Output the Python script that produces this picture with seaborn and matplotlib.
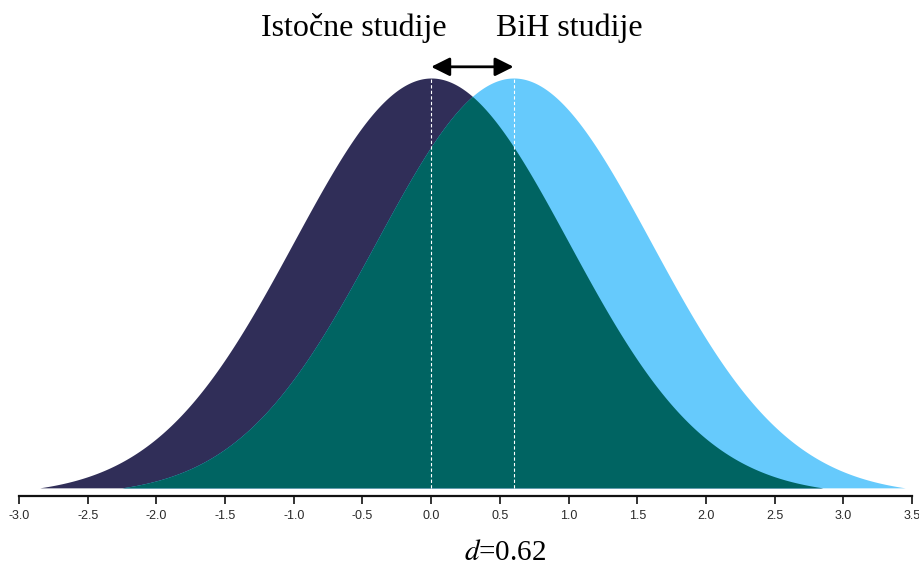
import numpy as np
import pandas as pd
import matplotlib
matplotlib.use("Agg")
import matplotlib.pyplot as plt
import seaborn as sns

# ── data ──────────────────────────────────────────────────────────────────────
group_names = ["Istočne studije", "BiH studije"]
group_means = [0.0, 0.6]
group_sd = [1.0, 1.0]
tail_cut = 2.85          # curves drawn to mean ± tail_cut
effect_label = "0.62"
x_ticks = [-3.0, -2.5, -2.0, -1.5, -1.0, -0.5, 0.0, 0.5, 1.0, 1.5, 2.0, 2.5, 3.0, 3.5]

COL_LEFT = "#302e58"
COL_RIGHT = "#66cafc"
COL_OVERLAP = "#006462"


def normal_pdf(x, mu, sd):
    return np.exp(-0.5 * ((x - mu) / sd) ** 2) / (sd * np.sqrt(2 * np.pi))


grid = np.linspace(-3.0, 3.5, 1400)
frames = []
for name, mu, sd in zip(group_names, group_means, group_sd):
    # taper the truncated tails to zero so the curve ends in a point
    dens = normal_pdf(grid, mu, sd) - normal_pdf(mu + tail_cut * sd, mu, sd)
    dens = np.where(np.abs(grid - mu) <= tail_cut * sd, dens, np.nan)
    frames.append(pd.DataFrame({"x": grid, "density": dens, "group": name}))
df = pd.concat(frames, ignore_index=True)

sns.set_theme(style="white")
plt.rcParams["mathtext.fontset"] = "stix"
fig = plt.figure(figsize=(9.2, 5.7), dpi=100)
ax = fig.add_axes([19 / 920, (570 - 496) / 570, 893 / 920, (496 - 78) / 570])

d_left = df.loc[df.group == group_names[0], "density"].to_numpy()
d_right = df.loc[df.group == group_names[1], "density"].to_numpy()
peak = np.nanmax(d_left)

# curves via seaborn (thin, hidden under fills), then fills
sns.lineplot(data=df, x="x", y="density", hue="group", hue_order=group_names,
             palette=[COL_LEFT, COL_RIGHT], lw=0, legend=False, ax=ax, zorder=0)
ax.fill_between(grid, 0, d_left, where=~np.isnan(d_left), color=COL_LEFT, lw=0, zorder=1)
ax.fill_between(grid, 0, d_right, where=~np.isnan(d_right), color=COL_RIGHT, lw=0, zorder=2)
overlap = np.fmin(np.nan_to_num(d_left), np.nan_to_num(d_right))
ax.fill_between(grid, 0, overlap, color=COL_OVERLAP, lw=0, zorder=3)

# mean markers
for mu in group_means:
    ax.plot([mu, mu], [0, peak], color="white", ls=(0, (3, 2)), lw=0.8, zorder=4)

ax.set_xlim(-3.0, 3.5)
ax.set_ylim(-0.0078, peak)
ax.set_xticks(x_ticks)
ax.set_xticklabels([f"{t:.1f}" for t in x_ticks],
                   fontsize=9, color="#2a2a2a",
                   family=["Liberation Sans Narrow", "Liberation Sans", "DejaVu Sans"])
ax.set_yticks([])
ax.set_xlabel("")
ax.set_ylabel("")
for s in ["top", "right", "left"]:
    ax.spines[s].set_visible(False)
ax.spines["bottom"].set_color("#111111")
ax.spines["bottom"].set_linewidth(1.6)
ax.tick_params(axis="x", direction="out", length=6, width=1.2, color="#111111", pad=4, bottom=True)

# arrow between means
arrow_y = peak + 0.0107
ax.annotate("", xy=(group_means[1], arrow_y), xytext=(group_means[0], arrow_y),
            xycoords="data", annotation_clip=False,
            arrowprops=dict(arrowstyle="<|-|>,head_length=0.7,head_width=0.35", color="black",
                            lw=2, mutation_scale=16, shrinkA=0, shrinkB=0))

serif = ["Liberation Serif", "DejaVu Serif"]
fig.text(354 / 920, 1 - 28 / 570, group_names[0], ha="center", va="center",
         fontsize=23, family=serif, color="black")
fig.text(569 / 920, 1 - 28 / 570, group_names[1], ha="center", va="center",
         fontsize=23, family=serif, color="black")
fig.text(505 / 920, 1 - 553 / 570, f"$d$={effect_label}", ha="center", va="center",
         fontsize=21, family=serif, color="black")

fig.savefig("out.png", dpi=100)
